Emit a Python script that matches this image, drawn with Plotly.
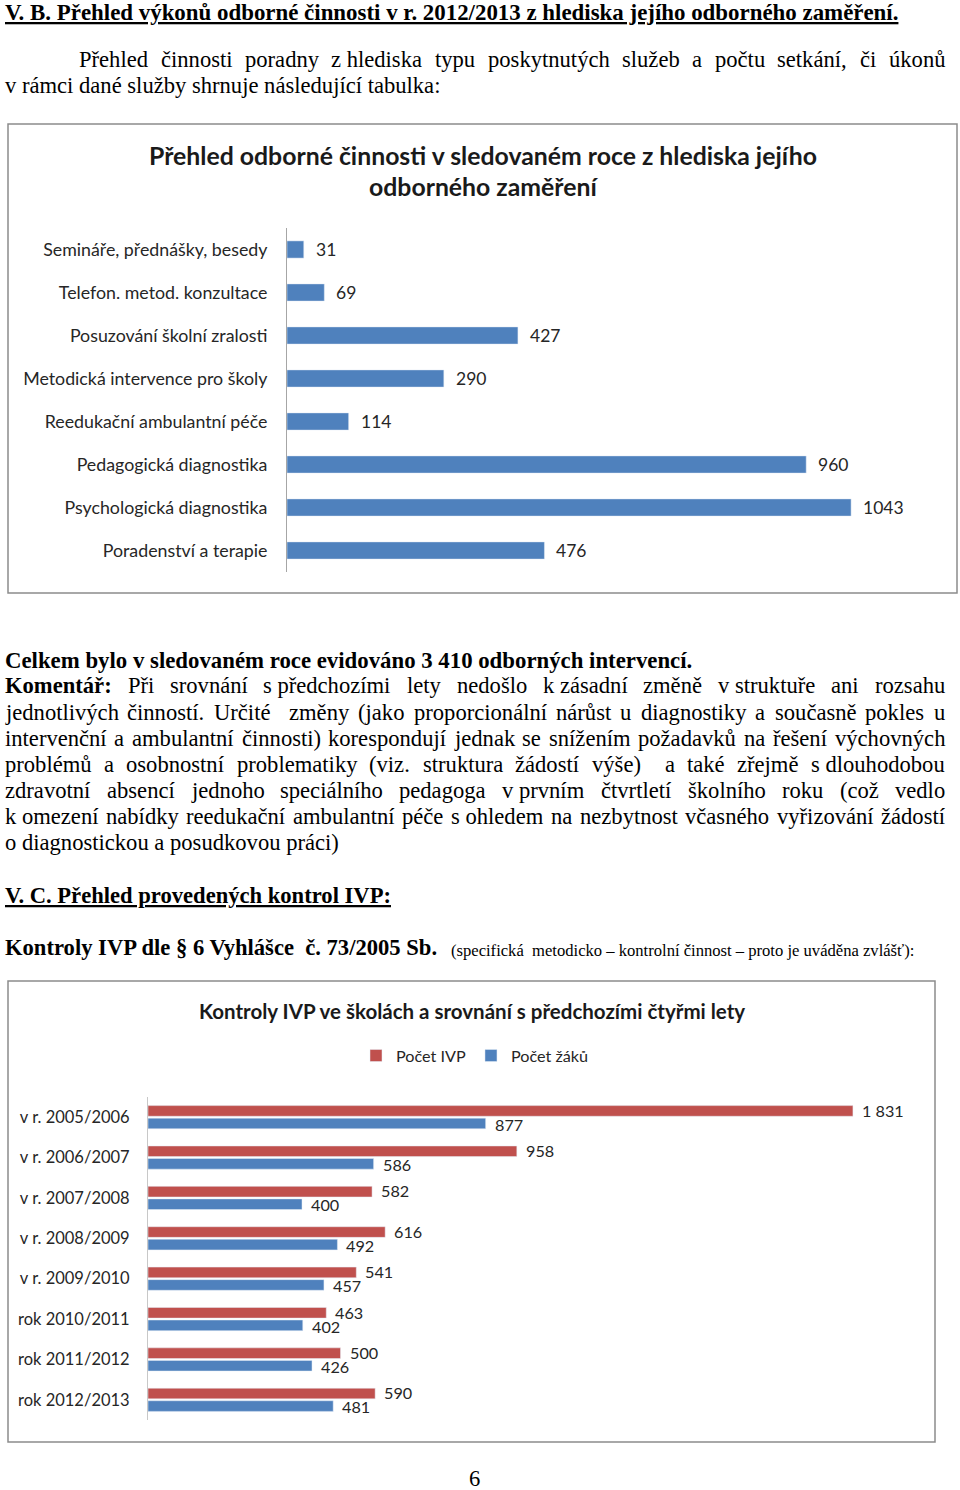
import plotly.graph_objects as go
import unicodedata

# ---------------- data ----------------
cat1 = ["Semináře, přednášky, besedy", "Telefon. metod. konzultace", "Posuzování školní zralosti",
        "Metodická intervence pro školy", "Reedukační ambulantní péče", "Pedagogická diagnostika",
        "Psychologická diagnostika", "Poradenství a terapie"]
val1 = [31, 69, 427, 290, 114, 960, 1043, 476]

years = ["v r. 2005/2006", "v r. 2006/2007", "v r. 2007/2008", "v r. 2008/2009",
         "v r. 2009/2010", "rok 2010/2011", "rok 2011/2012", "rok 2012/2013"]
pocet_ivp = [1831, 958, 582, 616, 541, 463, 500, 590]
pocet_zaku = [877, 586, 400, 492, 457, 402, 426, 481]

W, H = 960, 1490
BLUE = "#4F81BD"
RED = "#C0504D"
AX = "#A6A6A6"
TXT = "#262626"
CHART_FONT = "Lato"
SERIF = "Liberation Serif"
FS = 22.6


def px(x):
    return x / W


def py(y):
    return 1 - y / H


# Times / Liberation Serif advance widths (1/1000 em)
REG = dict(zip("abcdefghijklmnopqrstuvwxyz",
               [444, 500, 444, 500, 444, 333, 500, 500, 278, 278, 500, 278, 778, 500, 500, 500, 500, 333, 389, 278,
                500, 500, 722, 500, 500, 444]))
REG.update(dict(zip("ABCDEFGHIJKLMNOPQRSTUVWXYZ",
                    [722, 667, 667, 722, 611, 556, 722, 722, 333, 389, 722, 611, 889, 722, 722, 556, 722, 667, 556,
                     611, 722, 722, 944, 722, 722, 611])))
REG.update({" ": 250, ".": 250, ",": 250, ":": 278, ";": 278, "(": 333, ")": 333, "/": 278, "-": 333, "–": 500,
            "§": 500})
BOLD = dict(zip("abcdefghijklmnopqrstuvwxyz",
                [500, 556, 444, 556, 444, 333, 500, 556, 278, 333, 556, 278, 833, 556, 500, 556, 556, 444, 389, 333,
                 556, 500, 722, 500, 500, 444]))
BOLD.update(dict(zip("ABCDEFGHIJKLMNOPQRSTUVWXYZ",
                     [722, 667, 722, 722, 667, 611, 778, 778, 389, 500, 778, 667, 944, 722, 778, 611, 778, 722, 556,
                      667, 722, 722, 1000, 722, 722, 667])))
BOLD.update({" ": 250, ".": 250, ",": 250, ":": 333, ";": 333, "(": 333, ")": 333, "/": 278, "-": 333, "–": 500,
             "§": 500})


def tw(s, bold=False, size=FS):
    t = BOLD if bold else REG
    tot = 0
    for c in s:
        b = unicodedata.normalize("NFD", c)[0]
        tot += t.get(b, 500)
    return tot * size / 1000.0


annotations = []
shapes = []


def add_text(text, x, y, size=FS, bold=False, underline=False, xanchor="left", font=SERIF, color="black"):
    t = text
    if bold:
        t = "<b>" + t + "</b>"
    if underline:
        t = "<u>" + t + "</u>"
    annotations.append(dict(text=t, x=px(x), y=py(y), xref="paper", yref="paper", xanchor=xanchor,
                            yanchor="middle", showarrow=False, borderpad=0,
                            font=dict(family=font, size=size, color=color)))


def justify(line, x0, x1, y, bold_first=0):
    toks = line.split(" ")
    widths = []
    for i, tk in enumerate(toks):
        widths.append(tw(tk.replace("~", " "), bold=(i < bold_first)))
    gap = (x1 - x0 - sum(widths)) / max(1, len(toks) - 1)
    gap = max(gap, 0.2 * FS)
    x = x0
    for i, tk in enumerate(toks):
        if tk:
            add_text(tk.replace("~", "\u00a0"), x, y, bold=(i < bold_first))
        x += widths[i] + gap


# ---------------- document text ----------------
add_text("V. B. Přehled výkonů odborné činnosti v r. 2012/2013 z hlediska jejího odborného zaměření.", 4, 13,
         bold=True, underline=True, size=22.9)
justify("Přehled činnosti poradny z~hlediska typu poskytnutých služeb a počtu setkání, či úkonů", 78, 944, 60)
add_text("v rámci dané služby shrnuje následující tabulka:", 4, 86)

add_text("Celkem bylo v sledovaném roce evidováno 3 410 odborných intervencí.", 4, 660, bold=True, size=22.8)
comment = [
    "Komentář: Při srovnání s~předchozími lety nedošlo k~zásadní změně v~struktuře ani rozsahu",
    "jednotlivých činností. Určité  změny (jako proporcionální nárůst u diagnostiky a současně pokles u",
    "intervenční a ambulantní činnosti) korespondují jednak se snížením požadavků na řešení výchovných",
    "problémů a osobnostní problematiky (viz. struktura žádostí výše)  a také zřejmě s~dlouhodobou",
    "zdravotní absencí jednoho speciálního pedagoga v~prvním čtvrtletí školního roku (což vedlo",
    "k~omezení nabídky reedukační ambulantní péče s~ohledem na nezbytnost včasného vyřizování žádostí",
]
ys = [686, 712, 738, 764, 790, 816]
for i, (ln, yy) in enumerate(zip(comment, ys)):
    justify(ln, 4, 944, yy, bold_first=1 if i == 0 else 0)
add_text("o diagnostickou a posudkovou práci)", 4, 842)

add_text("V. C. Přehled provedených kontrol IVP:", 4, 895, bold=True, underline=True)
add_text("Kontroly IVP dle § 6 Vyhlášce  č. 73/2005 Sb.", 4, 947, bold=True)
add_text("(specifická  metodicko – kontrolní činnost – proto je uváděna zvlášť):", 450, 950, size=16.6)
add_text("6", 474, 1478, xanchor="center")

# ---------------- chart frames & titles ----------------
shapes.append(dict(type="rect", xref="paper", yref="paper", x0=px(8), x1=px(957), y0=py(124), y1=py(593),
                   line=dict(color="#8C8C8C", width=1.5), fillcolor="rgba(0,0,0,0)"))
shapes.append(dict(type="rect", xref="paper", yref="paper", x0=px(8), x1=px(935), y0=py(981), y1=py(1442),
                   line=dict(color="#8C8C8C", width=1.5), fillcolor="rgba(0,0,0,0)"))

add_text("Přehled odborné činnosti v sledovaném roce z hlediska jejího", 483, 155, size=24.8, bold=True,
         xanchor="center", font=CHART_FONT, color="#1a1a1a")
add_text("odborného zaměření", 483, 187, size=24.8, bold=True, xanchor="center", font=CHART_FONT, color="#1a1a1a")
add_text("Kontroly IVP ve školách a srovnání s předchozími čtyřmi lety", 472, 1011, size=20.5, bold=True,
         xanchor="center", font=CHART_FONT, color="#1a1a1a")

# ---------------- traces ----------------
fig = go.Figure()
fig.add_trace(go.Bar(y=cat1, x=val1, orientation="h", marker=dict(color=BLUE), width=0.4,
                     xaxis="x", yaxis="y", showlegend=False, hoverinfo="skip"))
fig.add_trace(go.Bar(y=years, x=pocet_ivp, orientation="h", marker=dict(color=RED), name="Počet IVP",
                     xaxis="x2", yaxis="y2", hoverinfo="skip"))
fig.add_trace(go.Bar(y=years, x=pocet_zaku, orientation="h", marker=dict(color=BLUE), name="Počet žáků",
                     xaxis="x2", yaxis="y2", hoverinfo="skip"))


def fmt(v):
    return f"{v:,}".replace(",", " ")


for c, v in zip(cat1, val1):
    annotations.append(dict(x=v, y=c, xref="x", yref="y", text=str(v), showarrow=False, xanchor="left",
                            xshift=10, font=dict(family=CHART_FONT, size=17.5, color=TXT)))
for c, v in zip(years, pocet_ivp):
    annotations.append(dict(x=v, y=c, xref="x2", yref="y2", text=fmt(v), showarrow=False, xanchor="left",
                            xshift=7, yshift=7, font=dict(family=CHART_FONT, size=16.2, color=TXT)))
for c, v in zip(years, pocet_zaku):
    annotations.append(dict(x=v, y=c, xref="x2", yref="y2", text=fmt(v), showarrow=False, xanchor="left",
                            xshift=7, yshift=-7, font=dict(family=CHART_FONT, size=16.2, color=TXT)))

fig.update_layout(
    width=W, height=H, margin=dict(l=0, r=0, t=0, b=0),
    paper_bgcolor="white", plot_bgcolor="white",
    barmode="group", bargap=0.38, bargroupgap=0.15,
    xaxis=dict(domain=[px(287), px(936)], range=[0, 1200], visible=False, anchor="y"),
    yaxis=dict(domain=[py(572), py(228)], type="category", autorange="reversed", anchor="x",
               showline=True, linecolor=AX, linewidth=1, ticks="", showgrid=False,
               ticklabelstandoff=15, tickfont=dict(family=CHART_FONT, size=17.8, color=TXT)),
    xaxis2=dict(domain=[px(148), px(918)], range=[0, 2000], visible=False, anchor="y2"),
    yaxis2=dict(domain=[py(1420), py(1097)], type="category", autorange="reversed", anchor="x2",
                showline=True, linecolor="#C8C8C8", linewidth=1, ticks="", showgrid=False,
                ticklabelstandoff=14, tickfont=dict(family=CHART_FONT, size=16.5, color=TXT)),
    legend=dict(orientation="h", x=px(475), xanchor="center", y=py(1056), yanchor="middle",
                font=dict(family=CHART_FONT, size=16.2, color=TXT), traceorder="normal",
                itemwidth=30),
    annotations=annotations, shapes=shapes,
)

fig.write_html("out.html")
